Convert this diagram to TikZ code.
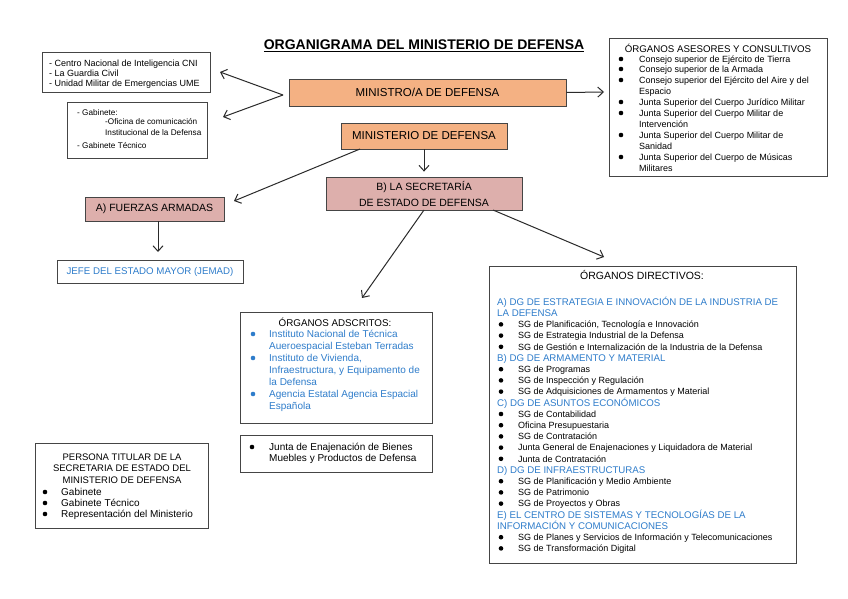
\documentclass[tikz,border=0pt]{standalone}
\usepackage{fontspec}
\setmainfont{Liberation Sans}
\usetikzlibrary{arrows.meta,calc}
\definecolor{peach}{HTML}{F4B183}
\definecolor{rose}{HTML}{DDAFAC}
\definecolor{linkblue}{HTML}{2F7DCB}
\definecolor{edgec}{HTML}{454545}
\definecolor{arrc}{HTML}{2A2A2A}
\newcounter{lnno}
% text line: [style]{x}{ycenter}{text}
\newcommand\txl[4][]{\stepcounter{lnno}\node[txt,#1] (l\arabic{lnno}) at (#2,{#3+3.2}) {#4};}
% bullet dot: [fill colour]{x}{ycenter}
\newcommand\bul[3][black]{\fill[#1] (#2,#3) circle (2.3);}
\begin{document}
\begin{tikzpicture}[x=1pt,y=-1pt,
  box/.style={draw=edgec,line width=0.8pt,anchor=north west,inner sep=0pt},
  txt/.style={anchor=base west,inner sep=0pt,font=\fontsize{9}{11}\selectfont,text=black},
  arr/.style={draw=arrc,line width=1pt,-{Straight Barb[length=5.5pt,width=10pt,line width=1pt]}},
  mainfont/.style={font=\fontsize{11.5}{14}\selectfont},
]
\useasboundingbox (0,0) rectangle (848,599);
\fill[white] (0,0) rectangle (848,599);

% title
\node[inner sep=0pt,anchor=base,font=\fontsize{14}{16}\selectfont\bfseries] (title) at (424,50) {\underline{ORGANIGRAMA DEL MINISTERIO DE DEFENSA}};

% boxes
\node[box,minimum width=168,minimum height=40] (cni) at (42,52) {};
\node[box,minimum width=140,minimum height=56] (gab) at (67,102) {};
\node[box,fill=peach,minimum width=277,minimum height=27,anchor=center,mainfont] (mino) at (427.5,92.5) {MINISTRO/A DE DEFENSA};
\node[box,fill=peach,minimum width=166,minimum height=26,anchor=center,mainfont] (mind) at (424,136) {MINISTERIO DE DEFENSA};
\node[box,minimum width=218,minimum height=138] (ases) at (609,38) {};
\node[box,fill=rose,minimum width=196,minimum height=33,anchor=center,align=center,font=\fontsize{10.5}{16}\selectfont] (bsec) at (424,193.5) {B) LA SECRETARÍA\\DE ESTADO DE DEFENSA};
\node[box,fill=rose,minimum width=139,minimum height=24,anchor=center,font=\fontsize{10.5}{13}\selectfont] (fa) at (154.5,209) {A) FUERZAS ARMADAS};
\node[box,minimum width=186,minimum height=23,anchor=center,font=\fontsize{9.7}{12}\selectfont,text=linkblue] (jefe) at (150,271.5) {JEFE DEL ESTADO MAYOR (JEMAD)};
\node[box,minimum width=192,minimum height=111] (adsc) at (240,312) {};
\node[box,minimum width=192,minimum height=37] (junta) at (240,435) {};
\node[box,minimum width=307,minimum height=297] (dir) at (489,266) {};
\node[box,minimum width=173,minimum height=85] (pers) at (35,443) {};

% CNI box
\txl{49}{63}{- Centro Nacional de Inteligencia CNI}
\txl{49}{73}{- La Guardia Civil}
\txl{49}{83}{- Unidad Militar de Emergencias UME}

% Gabinete box
\tikzset{gabt/.style={font=\fontsize{8.2}{10}\selectfont}}
\txl[gabt]{77}{112}{- Gabinete:}
\txl[gabt]{105}{121}{-Oficina de comunicación}
\txl[gabt]{105}{132}{Institucional de la Defensa}
\txl[gabt]{77}{145}{- Gabinete Técnico}

% Asesores
\node[inner sep=0pt,anchor=base,font=\fontsize{9.7}{12}\selectfont] (asest) at (718,52.5) {ÓRGANOS ASESORES Y CONSULTIVOS};
\bul{621}{59}\txl{639}{59}{Consejo superior de Ejército de Tierra}
\bul{621}{69}\txl{639}{69}{Consejo superior de la Armada}
\bul{621}{80}\txl{639}{80}{Consejo superior del Ejército del Aire y del}
\txl{639}{91}{Espacio}
\bul{621}{102}\txl{639}{102}{Junta Superior del Cuerpo Jurídico Militar}
\bul{621}{113}\txl{639}{113}{Junta Superior del Cuerpo Militar de}
\txl{639}{124}{Intervención}
\bul{621}{135}\txl{639}{135}{Junta Superior del Cuerpo Militar de}
\txl{639}{146}{Sanidad}
\bul{621}{157}\txl{639}{157}{Junta Superior del Cuerpo de Músicas}
\txl{639}{168}{Militares}

% Adscritos
\node[inner sep=0pt,anchor=base,font=\fontsize{9.8}{12}\selectfont] (adsct) at (335,326.5) {ÓRGANOS ADSCRITOS:};
\tikzset{adt/.style={font=\fontsize{10}{12}\selectfont,text=linkblue}}
\bul[linkblue]{253}{334}\txl[adt]{269}{334}{Instituto Nacional de Técnica}
\txl[adt]{269}{346}{Aueroespacial Esteban Terradas}
\bul[linkblue]{253}{358}\txl[adt]{269}{358}{Instituto de Vivienda,}
\txl[adt]{269}{370.5}{Infraestructura, y Equipamento de}
\txl[adt]{269}{382}{la Defensa}
\bul[linkblue]{253}{394}\txl[adt]{269}{394}{Agencia Estatal Agencia Espacial}
\txl[adt]{269}{406}{Española}

% Junta
\tikzset{jt/.style={font=\fontsize{10}{12}\selectfont}}
\bul{252}{447}\txl[jt]{269}{447}{Junta de Enajenación de Bienes}
\txl[jt]{269}{458}{Muebles y Productos de Defensa}

% Persona titular
\node[inner sep=0pt,anchor=base,font=\fontsize{9.5}{12}\selectfont] (perst1) at (122,460.5) {PERSONA TITULAR DE LA};
\node[inner sep=0pt,anchor=base,font=\fontsize{9.5}{12}\selectfont] (perst2) at (122,471.5) {SECRETARIA DE ESTADO DEL};
\node[inner sep=0pt,anchor=base,font=\fontsize{9.5}{12}\selectfont] (perst3) at (122,483.5) {MINISTERIO DE DEFENSA};
\tikzset{pt/.style={font=\fontsize{10}{12}\selectfont}}
\bul{45}{492}\txl[pt]{61}{492}{Gabinete}
\bul{45}{503}\txl[pt]{61}{503}{Gabinete Técnico}
\bul{45}{514}\txl[pt]{61}{514}{Representación del Ministerio}

% Directivos
\node[inner sep=0pt,anchor=base,font=\fontsize{10.5}{12}\selectfont] (dirt) at (642,279.8) {ÓRGANOS DIRECTIVOS:};
\tikzset{hd/.style={font=\fontsize{9.7}{12}\selectfont,text=linkblue}}
\txl[hd]{497}{302}{A) DG DE ESTRATEGIA E INNOVACIÓN DE LA INDUSTRIA DE}
\txl[hd]{497}{313.2}{LA DEFENSA}
\bul{501}{324.4}\txl{518}{324.4}{SG de Planificación, Tecnología e Innovación}
\bul{501}{335.6}\txl{518}{335.6}{SG de Estrategia Industrial de la Defensa}
\bul{501}{346.8}\txl{518}{346.8}{SG de Gestión e Internalización de la Industria de la Defensa}
\txl[hd]{497}{358}{B) DG DE ARMAMENTO Y MATERIAL}
\bul{501}{369.2}\txl{518}{369.2}{SG de Programas}
\bul{501}{380.4}\txl{518}{380.4}{SG de Inspección y Regulación}
\bul{501}{391.6}\txl{518}{391.6}{SG de Adquisiciones de Armamentos y Material}
\txl[hd]{497}{402.8}{C) DG DE ASUNTOS ECONÓMICOS}
\bul{501}{414}\txl{518}{414}{SG de Contabilidad}
\bul{501}{425.2}\txl{518}{425.2}{Oficina Presupuestaria}
\bul{501}{436.4}\txl{518}{436.4}{SG de Contratación}
\bul{501}{447.6}\txl{518}{447.6}{Junta General de Enajenaciones y Liquidadora de Material}
\bul{501}{458.8}\txl{518}{458.8}{Junta de Contratación}
\txl[hd]{497}{470}{D) DG DE INFRAESTRUCTURAS}
\bul{501}{481.2}\txl{518}{481.2}{SG de Planificación y Medio Ambiente}
\bul{501}{492.4}\txl{518}{492.4}{SG de Patrimonio}
\bul{501}{503.6}\txl{518}{503.6}{SG de Proyectos y Obras}
\txl[hd]{497}{514.8}{E) EL CENTRO DE SISTEMAS Y TECNOLOGÍAS DE LA}
\txl[hd]{497}{526}{INFORMACIÓN Y COMUNICACIONES}
\bul{501}{537.2}\txl{518}{537.2}{SG de Planes y Servicios de Información y Telecomunicaciones}
\bul{501}{548.4}\txl{518}{548.4}{SG de Transformación Digital}

% connectors
\coordinate (apex) at (283,95);
\coordinate (cniin) at (220,72);
\coordinate (gabin) at (223,117);
\coordinate (asesin) at (604,92);
\coordinate (mindl) at (360,149);
\coordinate (fain) at (234,201);
\coordinate (fao) at (158,221);
\coordinate (jefin) at (158,252);
\coordinate (bsecl) at (424,210);
\coordinate (adscin) at (362,298);
\coordinate (bsecr) at (493,210);
\coordinate (dirin) at (604,257);
\draw[arr] (apex) -- (cniin);
\draw[arr] (apex) -- (gabin);
\draw[arr] (mino.east) -- (asesin);
\draw[arr] (mind.south) -- ($(bsec.north)+(0,-5)$);
\draw[arr] (mindl) -- (fain);
\draw[arr] (fao) -- (jefin);
\draw[arr] (bsecl) -- (adscin);
\draw[arr] (bsecr) -- (dirin);
\end{tikzpicture}
\end{document}
